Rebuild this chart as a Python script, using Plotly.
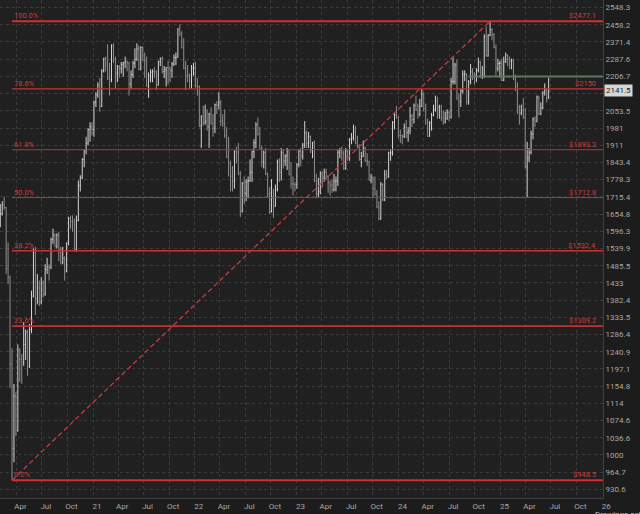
import math
import pandas as pd
import plotly.graph_objects as go

# ---------------- data (weekly bars) ----------------
first_week = "2020-02-03"

opens = [
    # 2020
    1615,1656,1687,1678,1476,1450,1210,1014,1131,1052,1246,1221,1214,1260,1293,1203,1300,1394,1535,1388,1418,1377,1433,1400,
    1474,1482,1480,1569,1583,1545,1583,1535,1497,1508,1469,1555,1640,1630,1630,1538,1633,1757,1786,1855,1892,1920,1975,1986,
    # 2021
    1975,2091,2123,2167,2073,2233,2289,2266,2201,2192,2352,2285,2221,2254,2243,2263,2271,2278,2270,2171,2215,2269,2286,2336,2240,2344,
    2285,2280,2163,2210,2226,2230,2228,2167,2277,2292,2230,2237,2248,2241,2233,2265,2296,2297,2437,2412,2343,2245,2210,2210,2183,2245,
    # 2022
    2245,2162,2162,1988,2028,2003,2010,1986,2040,2000,1980,2080,2078,2091,2009,2000,1950,1864,1839,1792,1773,1887,1883,1800,1665,1765,
    1728,1770,1774,1806,1885,1921,1995,1957,1899,1845,1882,1799,1726,1665,1711,1683,1742,1847,1806,1881,1849,1869,1892,1797,1763,1761,
    # 2023
    1761,1836,1887,1869,1911,1961,1918,1946,1890,1921,1773,1725,1734,1802,1784,1806,1791,1768,1758,1741,1773,1773,1883,1890,1880,1821,
    1889,1864,1935,1941,1966,1921,1909,1855,1867,1899,1850,1847,1776,1785,1745,1725,1680,1640,1761,1705,1798,1792,1880,1880,2004,2037,
    # 2024
    2027,1951,1950,1947,1985,1962,1970,2032,2016,2076,2057,2039,2072,2125,2063,2003,1947,2002,2035,2060,2095,2069,2070,2023,2006,2022,
    2047,2027,2184,2184,2260,2109,2093,2142,2218,2218,2092,2182,2228,2219,2212,2234,2276,2207,2210,2399,2303,2406,2434,2409,2346,2243,2267,
    # 2025
    2268,2189,2275,2307,2288,2279,2280,2196,2163,2070,2045,2057,2023,1827,1860,1883,1957,2020,2009,2113,2040,2066,2132,2145,2110,
]
highs = [
    # 2020
    1690,1700,1716,1680,1560,1455,1250,1160,1140,1260,1250,1235,1320,1300,1300,1315,1410,1540,1545,1460,1440,1450,1440,1490,
    1510,1490,1575,1605,1590,1590,1595,1545,1545,1515,1560,1645,1650,1650,1640,1650,1775,1795,1860,1895,1945,1980,2005,2005,
    # 2021
    2098,2135,2180,2200,2240,2295,2300,2360,2270,2360,2365,2300,2260,2260,2275,2275,2300,2280,2275,2235,2280,2340,2365,2355,2350,2350,
    2320,2300,2225,2240,2240,2250,2235,2280,2295,2300,2255,2250,2280,2250,2275,2310,2320,2440,2460,2425,2390,2280,2260,2220,2260,2270,
    # 2022
    2275,2200,2165,2035,2075,2080,2060,2045,2070,2040,2085,2095,2135,2100,2040,2060,1985,1945,1850,1830,1890,1905,1920,1810,1770,1790,
    1780,1790,1855,1890,1935,2005,2025,1985,1910,1890,1900,1805,1750,1780,1745,1760,1855,1860,1900,1895,1875,1900,1895,1845,1790,1770,
    # 2023
    1840,1895,1900,1920,2010,1970,1965,1950,1925,1930,1800,1785,1810,1810,1820,1820,1795,1775,1780,1800,1790,1895,1900,1905,1890,1900,
    1895,1940,1960,1995,1990,1950,1915,1885,1930,1905,1880,1850,1800,1790,1790,1740,1700,1770,1765,1815,1815,1885,1895,2010,2045,2075,
    # 2024
    2030,1975,1955,2000,2015,1985,2070,2040,2085,2120,2085,2105,2150,2135,2085,2020,2010,2045,2080,2120,2115,2080,2080,2055,2050,2060,
    2055,2200,2295,2270,2285,2130,2150,2235,2235,2220,2190,2265,2245,2225,2245,2295,2280,2255,2410,2450,2410,2477.1,2440,2415,2360,2290,2280,
    # 2025
    2290,2300,2320,2310,2300,2290,2290,2215,2180,2080,2080,2110,2065,1925,1900,1970,2025,2030,2120,2120,2090,2140,2175,2155,2200,
]
lows = [
    # 2020
    1610,1650,1670,1460,1430,1150,948.5,985,1040,1050,1165,1160,1205,1220,1180,1200,1290,1390,1340,1370,1365,1370,1390,1395,
    1460,1440,1475,1555,1545,1540,1500,1490,1490,1440,1465,1550,1605,1595,1530,1530,1630,1735,1780,1825,1875,1910,1925,1950,
    # 2021
    1945,2070,2110,2050,2070,2225,2230,2190,2120,2180,2270,2150,2180,2200,2220,2205,2245,2230,2120,2150,2200,2245,2280,2235,2235,2280,
    2200,2160,2110,2180,2180,2200,2145,2165,2255,2220,2200,2160,2170,2180,2200,2255,2260,2295,2400,2340,2240,2145,2180,2150,2150,2210,
    # 2022
    2155,2120,1985,1900,1990,1995,1970,1900,1995,1945,1960,2040,2060,1990,1985,1940,1860,1790,1735,1735,1745,1840,1795,1645,1660,1690,
    1700,1710,1770,1770,1860,1900,1950,1895,1825,1820,1795,1715,1655,1660,1642,1680,1735,1770,1775,1820,1830,1815,1795,1745,1720,1735,
    # 2023
    1745,1825,1830,1855,1900,1900,1900,1880,1860,1770,1710,1715,1725,1750,1770,1780,1730,1720,1730,1735,1735,1755,1860,1850,1815,1815,
    1850,1850,1915,1930,1915,1900,1850,1825,1865,1845,1830,1775,1765,1715,1720,1675,1633,1635,1700,1700,1780,1785,1850,1870,1975,2020,
    # 2024
    1940,1920,1915,1940,1940,1925,1955,1985,2000,2055,2020,2030,2070,2050,1995,1945,1945,1970,2030,2050,2020,2020,2010,1995,2000,2015,
    2010,2020,2170,2170,2100,2025,2070,2130,2185,2080,2080,2170,2190,2170,2180,2225,2200,2195,2200,2300,2300,2400,2380,2340,2210,2230,2200,
    # 2025
    2185,2185,2270,2255,2240,2240,2190,2140,2040,1995,2035,2020,1820,1715,1845,1875,1935,1985,2005,2035,2035,2060,2120,2090,2105,
]
closes = [
    # 2020
    1656,1687,1678,1476,1450,1210,1014,1131,1052,1246,1221,1214,1260,1293,1203,1300,1394,1535,1388,1418,1377,1433,1400,1474,
    1482,1480,1569,1583,1545,1583,1535,1497,1508,1469,1555,1640,1630,1630,1538,1633,1757,1786,1855,1892,1920,1975,1986,1975,
    # 2021
    2091,2123,2167,2073,2233,2289,2266,2201,2192,2352,2285,2221,2254,2243,2263,2271,2278,2270,2171,2215,2269,2286,2336,2240,2344,2285,
    2280,2163,2210,2226,2230,2228,2167,2277,2292,2230,2237,2248,2241,2233,2265,2296,2297,2437,2412,2343,2245,2210,2210,2183,2245,2245,
    # 2022
    2162,2162,1988,2028,2003,2010,1986,2040,2000,1980,2080,2078,2091,2009,2000,1950,1864,1839,1792,1773,1887,1883,1800,1665,1765,1728,
    1770,1774,1806,1885,1921,1995,1957,1899,1845,1882,1799,1726,1665,1711,1683,1742,1847,1806,1881,1849,1869,1892,1797,1763,1761,1761,
    # 2023
    1836,1887,1869,1911,1961,1918,1946,1890,1921,1773,1725,1734,1802,1784,1806,1791,1768,1758,1741,1773,1773,1883,1890,1880,1821,1889,
    1864,1935,1941,1966,1921,1909,1855,1867,1899,1850,1847,1776,1785,1745,1725,1680,1640,1761,1705,1798,1792,1880,1880,2004,2037,2027,
    # 2024
    1951,1950,1947,1985,1962,1970,2032,2016,2076,2057,2039,2072,2125,2063,2003,1947,2002,2035,2060,2095,2069,2070,2023,2006,2022,2047,
    2027,2184,2184,2260,2109,2093,2142,2218,2218,2092,2182,2228,2219,2212,2234,2276,2207,2210,2399,2303,2406,2434,2409,2346,2243,2267,2268,
    # 2025
    2189,2275,2307,2288,2279,2280,2196,2163,2070,2045,2057,2023,1827,1860,1883,1957,2020,2009,2113,2040,2066,2132,2145,2110,2141.5,
]

# Fibonacci retracement drawn from the March-2020 low to the Nov-2024 high
swing_low_date, swing_low = "2020-03-16", 948.5
swing_high_date, swing_high = "2024-11-25", 2477.1
fib_levels = [2477.1, 2150.0, 1893.2, 1712.8, 1532.4, 1309.2, 948.5]
fib_pct_labels = ["100.0%", "78.6%", "61.8%", "50.0%", "38.2%", "23.6%", "0.0%"]
fib_price_labels = ["$2477.1", "$2150", "$1893.2", "$1712.8", "$1532.4", "$1309.2", "$948.5"]

support_start, support_level = "2024-09-09", 2206.5
last_price = 2141.5

x_tick_dates = ["2020-04-01", "2020-07-01", "2020-10-01", "2021-01-01", "2021-04-01", "2021-07-01", "2021-10-01",
                "2022-01-01", "2022-04-01", "2022-07-01", "2022-10-01", "2023-01-01", "2023-04-01", "2023-07-01",
                "2023-10-01", "2024-01-01", "2024-04-01", "2024-07-01", "2024-10-01", "2025-01-01", "2025-04-01",
                "2025-07-01", "2025-10-01", "2026-01-01"]
x_tick_labels = ["Apr", "Jul", "Oct", "21", "Apr", "Jul", "Oct", "22", "Apr", "Jul", "Oct", "23", "Apr", "Jul",
                 "Oct", "24", "Apr", "Jul", "Oct", "25", "Apr", "Jul", "Oct", "26"]
y_tick_labels = ["930.6", "964.7", "1000", "1036.6", "1074.6", "1114", "1154.8", "1197.1", "1240.9", "1286.4",
                 "1333.5", "1382.4", "1433", "1485.5", "1539.9", "1596.3", "1654.8", "1715.4", "1778.3", "1843.4",
                 "1911", "1981", "2053.5", "2128.6", "2206.7", "2287.6", "2371.4", "2458.2", "2548.3"]

# ---------------- figure ----------------
assert len(opens) == len(highs) == len(lows) == len(closes)
dates = pd.date_range(first_week, periods=len(closes), freq="7D")
x_end = "2026-01-04"

RED = "#d42e2e"
fib_styles = {
    "100.0%": (RED, 2), "78.6%": ("#cc3030", 1.3), "61.8%": ("#a63c3c", 1), "50.0%": ("#a03e3e", 1),
    "38.2%": ("#cc3030", 1.5), "23.6%": ("#bb3434", 1.6), "0.0%": (RED, 2),
}

fig = go.Figure()
fig.add_trace(go.Ohlc(
    x=dates, open=opens, high=highs, low=lows, close=closes,
    increasing=dict(line=dict(color="#d4d4d4", width=1)),
    decreasing=dict(line=dict(color="#8e8e8e", width=1)),
    tickwidth=0.35, hoverinfo="skip", showlegend=False,
))

for lvl, pct in zip(fib_levels, fib_pct_labels):
    col, w = fib_styles[pct]
    fig.add_trace(go.Scatter(x=[swing_low_date, x_end], y=[lvl, lvl], mode="lines",
                             line=dict(color=col, width=w), hoverinfo="skip", showlegend=False))

fig.add_trace(go.Scatter(x=[swing_low_date, swing_high_date], y=[swing_low, swing_high], mode="lines",
                         line=dict(color="#c23c3c", width=1.3, dash="5px,3px"), hoverinfo="skip", showlegend=False))

fig.add_trace(go.Scatter(x=[support_start, x_end], y=[support_level, support_level], mode="lines",
                         line=dict(color="#587a5e", width=2), hoverinfo="skip", showlegend=False))

annotations = []
for lvl, pct, price in zip(fib_levels, fib_pct_labels, fib_price_labels):
    annotations.append(dict(x=swing_low_date, y=math.log10(lvl), xref="x", yref="y", text=pct,
                            xanchor="left", yanchor="bottom", showarrow=False, yshift=-1,
                            font=dict(family="Roboto", size=7.5, color="#d03a3a")))
    annotations.append(dict(x=0.992, y=math.log10(lvl), xref="paper", yref="y", text=price,
                            xanchor="right", yanchor="bottom", showarrow=False, yshift=-1,
                            font=dict(family="Roboto", size=7.5, color="#d03a3a")))

annotations.append(dict(x=1.0, y=math.log10(last_price), xref="paper", yref="y", text=f"{last_price}",
                        xanchor="left", yanchor="middle", showarrow=False, xshift=1,
                        bgcolor="#d6d6d6", borderpad=1,
                        font=dict(family="Roboto", size=8, color="#1a1a1a")))
annotations.append(dict(x=0.983, y=-0.021, xref="paper", yref="paper", text="Drawings set: Default",
                        xanchor="left", yanchor="top", showarrow=False,
                        font=dict(family="Roboto", size=8, color="#c8c8c8")))

fig.update_layout(
    width=640, height=514,
    margin=dict(l=0, r=37, t=0, b=16),
    paper_bgcolor="#1c1c1c", plot_bgcolor="#202020",
    showlegend=False, hovermode=False,
    font=dict(family="Roboto", size=8, color="#a8a8a8"),
    annotations=annotations,
    shapes=[dict(type="rect", xref="paper", yref="paper", x0=-0.01, x1=1.1, y0=-0.035, y1=-0.05,
                 fillcolor="#0c0c0c", line=dict(width=0), layer="below")],
)
fig.update_xaxes(
    type="date", range=["2020-02-02", x_end], rangeslider_visible=False,
    tickmode="array", tickvals=x_tick_dates, ticktext=x_tick_labels, ticklabelshift=4,
    showgrid=True, gridcolor="#3c3c3c", griddash="dot", gridwidth=1,
    ticks="", showline=True, linecolor="#404040", linewidth=1, zeroline=False,
    tickfont=dict(family="Roboto", size=8, color="#a8a8a8"),
)
fig.update_yaxes(
    type="log", side="right", range=[math.log10(914), math.log10(2589)],
    tickmode="array", tickvals=[float(s) for s in y_tick_labels], ticktext=y_tick_labels,
    showgrid=True, gridcolor="#3c3c3c", griddash="dot", gridwidth=1,
    ticks="", showline=True, linecolor="#404040", linewidth=1, zeroline=False,
    tickfont=dict(family="Roboto", size=8, color="#a8a8a8"),
)

fig.write_html(
    "out.html",
    config={"displayModeBar": False},
    post_script="document.body.style.margin='0';document.body.style.overflow='hidden';"
                "document.body.style.background='#1c1c1c';",
)
